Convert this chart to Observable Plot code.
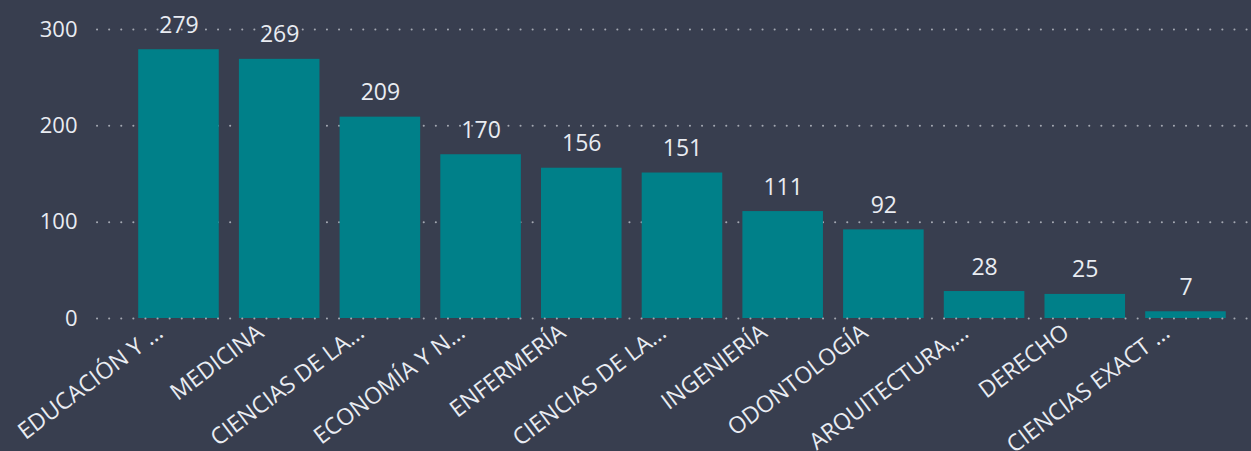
<!DOCTYPE html>
<html>
<head>
<meta charset="utf-8">
<script src="https://cdn.jsdelivr.net/npm/d3@7"></script>
<script src="https://cdn.jsdelivr.net/npm/@observablehq/plot@0.6"></script>
<style>
  html, body { margin: 0; padding: 0; background: #383e4f; }
  #chart { width: 1251px; height: 451px; overflow: hidden; }
</style>
</head>
<body>
<div id="chart"></div>
<script>
const categories = [
  "EDUCACIÓN Y HUMANIDADES", "MEDICINA", "CIENCIAS DE LA SALUD", "ECONOMÍA Y NEGOCIOS",
  "ENFERMERÍA", "CIENCIAS DE LA VIDA", "INGENIERÍA", "ODONTOLOGÍA",
  "ARQUITECTURA, ARTE Y DISEÑO", "DERECHO", "CIENCIAS EXACTAS"
];
const tickLabels = [
  "EDUCACIÓN Y …", "MEDICINA", "CIENCIAS DE LA…", "ECONOMÍA Y N…",
  "ENFERMERÍA", "CIENCIAS DE LA…", "INGENIERÍA", "ODONTOLOGÍA",
  "ARQUITECTURA,…", "DERECHO", "CIENCIAS EXACT …"
];
const values = [279, 269, 209, 170, 156, 151, 111, 92, 28, 25, 7];
const yTicks = [0, 100, 200, 300];

const data = categories.map((c, i) => ({cat: c, label: tickLabels[i], value: values[i]}));
const labelOf = new Map(data.map(d => [d.cat, d.label]));

const font = "'Open Sans', 'Noto Sans', sans-serif";
const textColor = "#e9ecf2";

const chart = Plot.plot({
  width: 1251,
  height: 451,
  marginLeft: 97,
  marginRight: 0,
  marginTop: 29,
  marginBottom: 133,
  style: {background: "#383e4f", color: textColor, fontFamily: font, fontSize: "21px"},
  x: {type: "band", domain: categories, paddingInner: 0.2, paddingOuter: 0.33, align: 0.62, round: false},
  y: {domain: [0, 300]},
  marks: [
    Plot.ruleY(yTicks.filter(t => t > 0), {stroke: "#a3a7b1", strokeWidth: 2, strokeDasharray: "0.1,12", strokeLinecap: "round"}),
    Plot.barY(data, {x: "cat", y: "value", fill: "#008089"}),
    Plot.ruleY([0], {stroke: "#a3a7b1", strokeWidth: 2, strokeDasharray: "0.1,12", strokeLinecap: "round"}),
    Plot.text(data, {x: "cat", y: "value", text: d => String(d.value), lineAnchor: "bottom", dy: -17, fill: textColor, fontSize: 23}),
    Plot.axisY({ticks: yTicks, tickSize: 0, tickPadding: 20, label: null, fontSize: 22, fill: textColor}),
    Plot.axisX({tickSize: 0, tickRotate: -37, tickPadding: 11, dx: -19, label: null, tickFormat: d => labelOf.get(d), fontSize: 23, fill: textColor})
  ]
});
document.getElementById("chart").appendChild(chart);
</script>
</body>
</html>
